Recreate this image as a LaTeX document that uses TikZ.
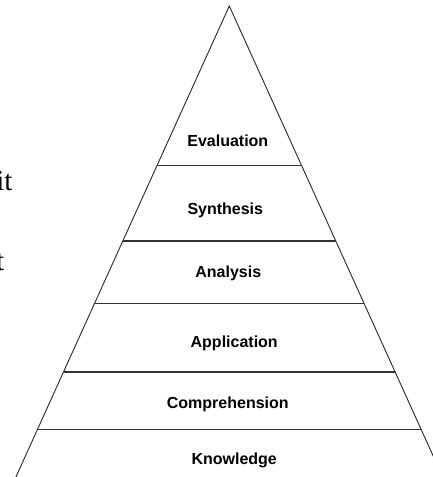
\documentclass[tikz,border=0pt]{standalone}
\usepackage{fontspec}
\setmainfont{Liberation Serif}
\newfontfamily\labelfont{Liberation Sans}
\tikzstyle{level} = [font=\labelfont\bfseries\fontsize{8pt}{9pt}\selectfont, anchor=base, inner sep=0pt]
\tikzstyle{cut} = [font=\fontsize{14.5pt}{16pt}\selectfont, anchor=base east, inner sep=0pt]
\tikzstyle{side} = [draw, line width=0.45pt, black!85]
\tikzstyle{shelf} = [draw, line width=0.55pt, black!80]

\begin{document}
\begin{tikzpicture}[x=0.5pt, y=-0.5pt]
	\useasboundingbox (0,0) rectangle (433,477);
	\clip (0,0) rectangle (433,477);
	
	\coordinate (apex) at (229.3,6);
	\coordinate (left) at (15.9,477);
	\coordinate (right) at (442.7,477);
	
	\path [side] (left) -- (apex) -- (right);
	\foreach \y in {165.5,241,303.7,372,429.3}
		\path [shelf] ({229.3-0.453*(\y-6)},\y) -- ({229.3+0.453*(\y-6)},\y);
	
	\node [level] (evaluation) at (227.8,146.3) {Evaluation};
	\node [level] (synthesis) at (225.3,214.3) {Synthesis};
	\node [level] (analysis) at (228.3,277.3) {Analysis};
	\node [level] (application) at (234.2,347.5) {Application};
	\node [level] (comprehension) at (227.8,408.3) {Comprehension};
	\node [level] (knowledge) at (234.2,464) {Knowledge};
	
	\node [cut] (it) at (12.8,190.7) {it};
	\node [cut] (t) at (4.5,270) {t};
\end{tikzpicture}
\end{document}
